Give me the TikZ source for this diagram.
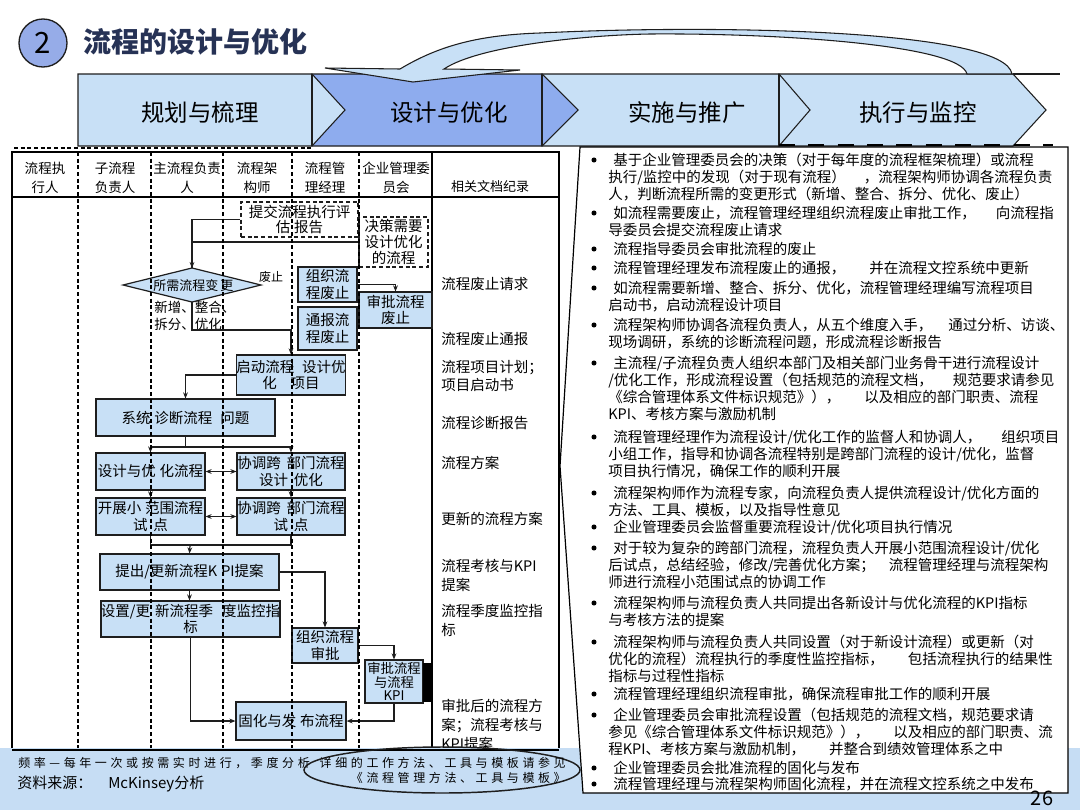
\documentclass[tikz,border=0pt]{standalone}
\usepackage{fontspec}
\setmainfont{Noto Sans CJK SC}
\usetikzlibrary{arrows.meta,shapes.geometric}
\newlength\pxu \setlength\pxu{0.75pt}
\newcommand\gapx[1]{\hspace*{#1\pxu}}
\definecolor{lb}{RGB}{200,224,246}
\definecolor{pb}{RGB}{142,172,238}
\definecolor{band}{RGB}{198,221,244}
\definecolor{circ}{RGB}{150,172,232}
\definecolor{ttl}{RGB}{38,50,85}
\definecolor{edge}{RGB}{30,30,30}
\tikzset{
  fbox/.style={draw=edge, fill=lb, line width=0.9pt, inner sep=0pt, align=center, font=\fontsize{10.875pt}{12.4pt}\selectfont},
  dbox/.style={draw=edge, fill=white, dash pattern=on 3pt off 2pt, line width=0.9pt, inner sep=0pt, align=center, font=\fontsize{10.875pt}{12pt}\selectfont},
  bsz/.style 2 args={minimum width=#1*0.75pt, minimum height=#2*0.75pt},
  arr/.style={draw=edge, line width=0.9pt, -{Stealth[length=4.5pt,width=3.6pt]}},
  darr/.style={draw=edge, line width=0.9pt, {Stealth[length=4.5pt,width=3.6pt]}-{Stealth[length=4.5pt,width=3.6pt]}},
  ln/.style={draw=edge, line width=0.9pt},
  lane/.style={draw=black, line width=0.8pt, dash pattern=on 3pt off 2pt},
  frame/.style={draw=black, line width=0.9pt},
  hdr/.style={align=center, inner sep=0pt, font=\fontsize{10.125pt}{14.25pt}\selectfont},
  doc/.style={align=left, anchor=north west, inner sep=0pt, font=\fontsize{10.875pt}{13.9pt}\selectfont},
  btxt/.style={align=left, anchor=north west, inner sep=0pt, font=\fontsize{10.875pt}{12.75pt}\selectfont},
  bul/.style={circle, fill=black, inner sep=0pt, minimum size=3.8pt},
  phase/.style={draw=edge, line width=0.8pt},
  ptxt/.style={font=\fontsize{17.6pt}{20pt}\selectfont, inner sep=0pt},
  ftxt/.style={inner sep=0pt, font=\fontsize{9pt}{11.25pt}\selectfont\addfontfeature{LetterSpace=30}},
}
\begin{document}
\begin{tikzpicture}[x=0.75pt,y=-0.75pt]
\useasboundingbox (0,0) rectangle (1080,810);
\fill[white] (0,0) rectangle (1080,810);

% ---------- title ----------
\node[circle, draw=edge, fill=circ, line width=1pt, minimum size=36pt, inner sep=0pt, font=\fontsize{22pt}{24pt}\selectfont] (num) at (43,43) {2};
\node[anchor=west, inner sep=0pt, text=ttl, font=\fontsize{21pt}{24pt}\selectfont\bfseries] (title) at (83,42) {流程的设计与优化};

% ---------- phases ----------
\path[phase, fill=lb] (779,74) -- (1013,74) -- (1046,110) -- (1013,146) -- (779,146) -- cycle;
\path[phase, fill=lb] (542,74) -- (779,74) -- (810,110) -- (779,146) -- (542,146) -- cycle;
\path[phase, fill=pb] (312,74) -- (542,74) -- (578,110) -- (542,146) -- (312,146) -- cycle;
\path[phase, fill=lb] (78,74) -- (312,74) -- (345,110) -- (312,146) -- (78,146) -- cycle;
\draw[phase] (312,74) -- (312,146);
\draw[phase] (542,74) -- (542,146);
\draw[phase] (779,74) -- (779,146);
\draw[phase] (1013,74) -- (1060,74);
\node[ptxt] (p1) at (200,113) {规划与梳理};
\node[ptxt] (p2) at (449,113) {设计与优化};
\node[ptxt] (p3) at (687,113) {实施与推广};
\node[ptxt] (p4) at (918,113) {执行与监控};

% curved feedback arrow
\path[draw=edge, fill=lb, line width=0.8pt] (325,68) -- (400,69)
  .. controls (440,45) and (480,35) .. (540,33)
  .. controls (720,24) and (1005,30) .. (1012,74)
  -- (967,74)
  .. controls (960,45) and (780,33) .. (650,34)
  .. controls (590,35) and (480,45) .. (444,69)
  -- (520,70) -- (413,82) -- cycle;

\draw[dash pattern=on 3pt off 2pt, line width=0.9pt] (14,148) -- (312,148);

% ---------- swimlane table ----------
\draw[frame] (12,152) rectangle (559,751);
\draw[frame] (12,197) -- (559,197);
\draw[frame] (432,152) -- (432,751);

\node[hdr] (h1) at (45,177.5) {流程执\\行人};
\node[hdr] (h2) at (115,177.5) {子流程\\负责人};
\node[hdr] (h3) at (187,177.5) {主流程负责\\人};
\node[hdr] (h4) at (257,177.5) {流程架\\构师};
\node[hdr] (h5) at (325,177.5) {流程管\\理经理};
\node[hdr] (h6) at (396,177.5) {企业管理委\\员会};
\node[hdr, font=\fontsize{9.75pt}{12pt}\selectfont] (h7) at (490,187) {相关文档纪录};

% flow boxes
\node[dbox, bsz={117}{35}, font=\fontsize{10.875pt}{11.25pt}\selectfont] (B1) at (299.5,219.5) {提交流程执行评\\估\gapx{4}报告};
\node[dbox, bsz={69}{50}] (B2) at (393.5,242) {决策需要\\设计优化\\的流程};

\coordinate (Dn) at (192,268);
\coordinate (De) at (261,285);
\coordinate (Ds) at (192,302);
\coordinate (Dw) at (123,285);
\path[ln, fill=lb] (Dn) -- (De) -- (Ds) -- (Dw) -- cycle;
\node[anchor=west, inner sep=0pt, font=\fontsize{9.75pt}{11pt}\selectfont] (dtxt) at (153,286) {所需流程变\gapx{2}更};
\node[inner sep=0pt, font=\fontsize{9pt}{10pt}\selectfont] (lfz) at (271,277) {废止};
\node[anchor=north west, align=left, inner sep=0pt, font=\fontsize{10.125pt}{12.75pt}\selectfont] (lxz) at (154,301) {新增、整合、\\拆分、优化};

\node[fbox, bsz={59}{35}] (zzfz) at (327.5,284.5) {组织流\\程废止};
\node[fbox, bsz={73}{36}] (spfz) at (395.5,310) {审批流程\\废止};
\node[fbox, bsz={59}{43}] (tbfz) at (327.5,328.5) {通报流\\程废止};
\node[fbox, bsz={108}{40}] (qd) at (291,375) {启动流程\gapx{8}设计优\\化\gapx{14}项目};
\node[fbox, bsz={179}{37}] (xt) at (185.5,417.5) {系统\gapx{4}诊断流程\gapx{8}问题};
\node[fbox, bsz={109}{37}] (sj) at (150.5,471.5) {设计与优\gapx{4}化流程};
\node[fbox, bsz={108}{37}] (xtk) at (291,471.5) {协调跨\gapx{6}部门流程\\设计\gapx{6}优化};
\node[fbox, bsz={109}{37}] (kz) at (150.5,516.5) {开展小\gapx{4}范围流程\\试\gapx{6}点};
\node[fbox, bsz={108}{37}] (xts) at (291,516.5) {协调跨\gapx{6}部门流程\\试\gapx{6}点};
\node[fbox, bsz={179}{36}] (kp) at (189.5,572) {提出/更新流程K\gapx{4}PI提案};
\node[fbox, bsz={179}{36}] (sz) at (190.5,619) {设置/更\gapx{5}新流程季\gapx{9}度监控指\\标};
\node[fbox, bsz={66}{35}] (zzsp) at (325,645.5) {组织流程\\审批};
\node[fbox, bsz={58}{43}, font=\fontsize{10pt}{10pt}\selectfont] (spkpi) at (394,681.5) {审批流程\\与流程\\KPI};
\fill[black] (423,663) rectangle (432,702);
\node[fbox, bsz={110}{38}] (gh) at (291,721) {固化与发\gapx{4}布流程};

% connectors
\draw[arr] (B1.west) -| (Dn);
\draw[ln] (B2.west) -| (Dn);
\draw[arr] (zzfz.east) -| (spfz.north);
\coordinate (k1) at (192,330);
\draw[arr] (Ds) -- (k1) -| (qd.north);
\draw[arr] (qd.west) -| (xt.north);
\coordinate (k2) at (185.5,447);
\draw[ln] (xt.south) -- (k2);
\draw[arr] (k2) -| (sj.north);
\draw[arr] (k2) -| (xtk.north);
\draw[darr] (sj.east) -- (xtk.west);
\draw[arr] (sj.south) -- (kz.north);
\draw[arr] (xtk.south) -- (xts.north);
\draw[darr] (kz.east) -- (xts.west);
\coordinate (k3) at (190,545);
\draw[ln] (kz.south) |- (k3);
\draw[ln] (xts.south) |- (k3);
\draw[arr] (k3) -- (kp.north);
\draw[arr] (kp.south) -- (kp.south |- sz.north);
\draw[arr] (kp.east) -| (zzsp.north);
\draw[arr] (sz.south) |- (gh.west);
\draw[arr] (zzsp.east) -| (spkpi.north);
\draw[arr] (spkpi.south) |- (gh.east);

% lanes
\foreach \lx in {78,151,223,292,359} \draw[lane] (\lx,152) -- (\lx,751);

% document column
\node[doc] (d1) at (441,277) {流程废止请求};
\node[doc] (d2) at (441,332) {流程废止通报};
\node[doc, font=\fontsize{10.875pt}{13.5pt}\selectfont] (d3) at (441,360) {流程项目计划；\\项目启动书};
\node[doc] (d4) at (441,416) {流程诊断报告};
\node[doc] (d5) at (441,456) {流程方案};
\node[doc] (d6) at (441,512) {更新的流程方案};
\node[doc] (d7) at (441,559) {流程考核与KPI\\提案};
\node[doc] (d8) at (441,604) {流程季度监控指\\标};
\node[doc, font=\fontsize{10.875pt}{14.25pt}\selectfont] (d9) at (441,699) {审批后的流程方\\案；流程考核与\\KPI提案};

% ---------- bottom band ----------
\fill[band] (0,748) rectangle (1080,810);
\draw[frame] (12,750) -- (559,750);

% ---------- right text box ----------
\path[frame, fill=white] (580,147) -- (1068,147) -- (1068,793) -- (583,793) -- (560,466) -- cycle;
\draw[line width=2.2pt, dash pattern=on 12pt off 10pt] (779,145) -- (1053,145);

\node[bul] (u1) at (594,160) {};
\node[btxt] (t1) at (608,153) {\gapx{5}基于企业管理委员会的决策（对于每年度的流程框架梳理）或流程\\执行/监控中的发现（对于现有流程）\gapx{18}，流程架构师协调各流程负责\\人，判断流程所需的变更形式（新增、整合、拆分、优化、废止）};
\node[bul] (u2) at (594,213) {};
\node[btxt] (t2) at (608,206) {\gapx{5}如流程需要废止，流程管理经理组织流程废止审批工作，\gapx{20}向流程指\\导委员会提交流程废止请求};
\node[bul] (u3) at (594,249) {};
\node[btxt] (t3) at (608,242) {\gapx{5}流程指导委员会审批流程的废止};
\node[bul] (u4) at (594,268) {};
\node[btxt] (t4) at (608,261) {\gapx{5}流程管理经理发布流程废止的通报，\gapx{24}并在流程文控系统中更新};
\node[bul] (u5) at (594,288) {};
\node[btxt] (t5) at (608,281) {\gapx{5}如流程需要新增、整合、拆分、优化，流程管理经理编写流程项目\\启动书，启动流程设计项目};
\node[bul] (u6) at (594,325) {};
\node[btxt] (t6) at (608,318) {\gapx{5}流程架构师协调各流程负责人，从五个维度入手，\gapx{16}通过分析、访谈、\\现场调研，系统的诊断流程问题，形成流程诊断报告};
\node[bul] (u7) at (594,363) {};
\node[btxt] (t7) at (608,356) {\gapx{5}主流程/子流程负责人组织本部门及相关部门业务骨干进行流程设计\\/优化工作，形成流程设置（包括规范的流程文档，\gapx{20}规范要求请参见\\《综合管理体系文件标识规范》），\gapx{24}以及相应的部门职责、流程\\KPI、考核方案与激励机制};
\node[bul] (u8) at (594,437) {};
\node[btxt] (t8) at (608,430) {\gapx{5}流程管理经理作为流程设计/优化工作的监督人和协调人，\gapx{20}组织项目\\小组工作，指导和协调各流程特别是跨部门流程的设计/优化，监督\\项目执行情况，确保工作的顺利开展};
\node[bul] (u9) at (594,493) {};
\node[btxt] (t9) at (608,486) {\gapx{5}流程架构师作为流程专家，向流程负责人提供流程设计/优化方面的\\方法、工具、模板，以及指导性意见};
\node[bul] (u10) at (594,527) {};
\node[btxt] (t10) at (608,520) {\gapx{5}企业管理委员会监督重要流程设计/优化项目执行情况};
\node[bul] (u11) at (594,548) {};
\node[btxt] (t11) at (608,541) {\gapx{5}对于较为复杂的跨部门流程，流程负责人开展小范围流程设计/优化\\后试点，总结经验，修改/完善优化方案；\gapx{14}流程管理经理与流程架构\\师进行流程小范围试点的协调工作};
\node[bul] (u12) at (594,603) {};
\node[btxt] (t12) at (608,596) {\gapx{5}流程架构师与流程负责人共同提出各新设计与优化流程的KPI指标\\与考核方法的提案};
\node[bul] (u13) at (594,642) {};
\node[btxt] (t13) at (608,635) {\gapx{5}流程架构师与流程负责人共同设置（对于新设计流程）或更新（对\\优化的流程）流程执行的季度性监控指标，\gapx{24}包括流程执行的结果性\\指标与过程性指标};
\node[bul] (u14) at (594,694) {};
\node[btxt] (t14) at (608,687) {\gapx{5}流程管理经理组织流程审批，确保流程审批工作的顺利开展};
\node[bul] (u15) at (594,715) {};
\node[btxt] (t15) at (608,708) {\gapx{5}企业管理委员会审批流程设置（包括规范的流程文档，规范要求请\\参见《综合管理体系文件标识规范》），\gapx{24}以及相应的部门职责、流\\程KPI、考核方案与激励机制，\gapx{24}并整合到绩效管理体系之中};
\node[bul] (u16) at (594,768) {};
\node[btxt] (t16) at (608,761) {\gapx{5}企业管理委员会批准流程的固化与发布};
\node[bul] (u17) at (594,784) {};
\node[btxt] (t17) at (608,777) {\gapx{5}流程管理经理与流程架构师固化流程，并在流程文控系统之中发布};

\node[inner sep=0pt, font=\fontsize{15pt}{16pt}\selectfont] (pg) at (1042,798) {26};

% ---------- footer ----------
\node[ftxt, anchor=west] (f1) at (18,763) {频率—每年一次或按需实时进行，季度分析};
\node[ellipse, draw=edge, line width=1.1pt, minimum width=207pt, minimum height=34.5pt, inner sep=0pt] (ell) at (442,770) {};
\node[ftxt, anchor=north east, align=right] (et) at (566,757) {详细的工作方法、工具与模板请参见\\《流程管理方法、工具与模板》};
\node[anchor=west, inner sep=0pt, font=\fontsize{11.25pt}{13pt}\selectfont] (src) at (17,784) {资料来源：\gapx{16}McKinsey分析};
\end{tikzpicture}
\end{document}
